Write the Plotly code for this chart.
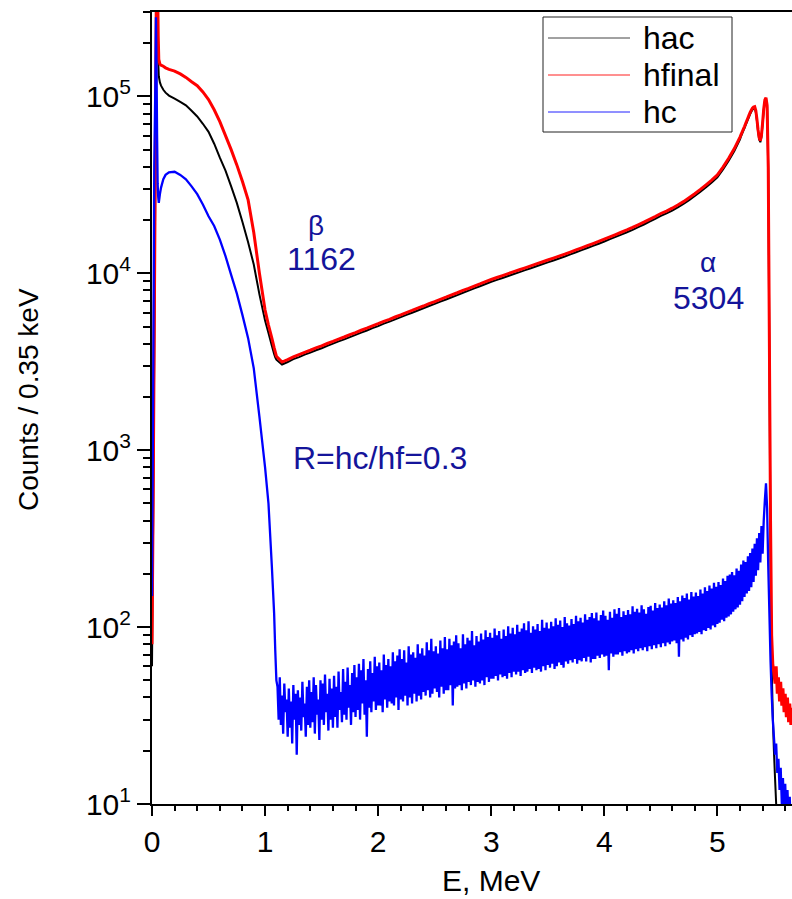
import numpy as np
import plotly.graph_objects as go

# ---------------- spectra (counts per 0.35 keV bin) ----------------
# Low-energy (beta) part, shared energy points, MeV
E_LOW = [0.0, 0.01, 0.02, 0.03, 0.035, 0.04, 0.045, 0.05, 0.055, 0.06,
         0.07, 0.08, 0.1, 0.12, 0.15, 0.2, 0.25, 0.3, 0.35, 0.4,
         0.45, 0.5, 0.55, 0.6, 0.65, 0.7, 0.75, 0.8, 0.85, 0.9,
         0.95, 1.0, 1.03, 1.06, 1.08, 1.09, 1.10]

HAC_LOW = [60, 400, 4000, 4e4, 1.8e5, 4.5e5, 5e5, 3e5, 1.6e5, 1.3e5,
           1.2e5, 1.15e5, 1.09e5, 1.05e5, 1.01e5, 9.7e4, 9.3e4, 8.9e4, 8.3e4, 7.7e4,
           7.0e4, 6.3e4, 5.4e4, 4.5e4, 3.8e4, 3.1e4, 2.5e4, 1.95e4, 1.5e4, 1.12e4,
           7.6e3, 5.4e3, 4.6e3, 3.9e3, 3.5e3, 3.35e3, 3.25e3]

HFINAL_LOW = [80, 500, 5000, 5e4, 2e5, 5e5, 6e5, 4e5, 2.2e5, 1.62e5,
              1.52e5, 1.5e5, 1.48e5, 1.45e5, 1.42e5, 1.39e5, 1.34e5, 1.28e5, 1.21e5, 1.15e5,
              1.06e5, 9.6e4, 8.4e4, 7.2e4, 6.0e4, 5.0e4, 4.1e4, 3.3e4, 2.6e4, 1.7e4,
              1.0e4, 6.2e3, 5.1e3, 4.3e3, 3.8e3, 3.6e3, 3.4e3]

HC_LOW = [150, 2000, 4e4, 1.2e5, 2.8e5, 1.5e5, 6e4, 3.2e4, 2.7e4, 2.5e4,
          2.8e4, 3.05e4, 3.4e4, 3.6e4, 3.72e4, 3.75e4, 3.6e4, 3.4e4, 3.1e4, 2.8e4,
          2.45e4, 2.1e4, 1.85e4, 1.55e4, 1.25e4, 9.8e3, 7.7e3, 5.8e3, 4.3e3, 2.9e3,
          1.55e3, 800, 500, 220, 120, 74, 50]

# hac / hfinal above the beta edge: 0.05 MeV steps from 1.15 MeV
E_MID_START, E_MID_STEP = 1.15, 0.05
HAC_MID = [3050, 3150, 3270, 3360, 3470, 3560, 3670, 3770, 3890, 4000,
           4120, 4230, 4360, 4490, 4620, 4750, 4900, 5030, 5190, 5330,
           5490, 5650, 5820, 5980, 6160, 6340, 6530, 6710, 6920, 7110,
           7320, 7530, 7760, 7980, 8220, 8450, 8700, 8950, 9180, 9410,
           9660, 9900, 10160, 10420, 10680, 10960, 11240, 11530, 11820, 12130,
           12440, 12790, 13150, 13510, 13890, 14280, 14680, 15130, 15590, 16060,
           16550, 17050, 17610, 18230, 18870, 19580, 20310, 21120, 21820, 22630,
           23590, 24650, 25930, 27330, 28900, 30670, 32640, 34890, 38620, 43330,
           49180, 57110]
HFINAL_MID = [3150, 3250, 3370, 3467, 3573, 3673, 3784, 3890, 4009, 4121,
              4246, 4365, 4498, 4624, 4764, 4898, 5047, 5188, 5346, 5495,
              5662, 5821, 5998, 6166, 6353, 6531, 6730, 6918, 7129, 7328,
              7551, 7762, 7998, 8222, 8472, 8710, 8974, 9226, 9462, 9705,
              9954, 10209, 10471, 10740, 11015, 11298, 11588, 11885, 12190, 12503,
              12823, 13183, 13552, 13932, 14322, 14723, 15136, 15596, 16069, 16558,
              17061, 17579, 18155, 18793, 19454, 20184, 20941, 21777, 22490, 23330,
              24320, 25410, 26730, 28180, 29790, 31620, 33650, 35970, 39810, 44670,
              50700, 58880]

# alpha peaks and upper edge: 0.01 MeV steps from 5.21 MeV
E_PEAK_START, E_PEAK_STEP = 5.21, 0.01
HAC_PEAK = [59700, 61800, 64000, 66200, 68700, 71300, 74000, 76700, 79500, 81900,
            84000, 85400, 85700, 81500, 72600, 63300, 57000, 55100, 59100, 69400,
            83400, 93600, 96400, 87300, 38000, 3500, 250, 60, 32, 20,
            14, 10, 7, 5, 4, 3, 4, 3, 3, 3,
            2, 3, 2, 2, 2, 2]
HFINAL_PEAK = [60950, 63100, 65300, 67600, 70150, 72780, 75500, 78300, 81100, 83600,
               85700, 87100, 87500, 83200, 74100, 64600, 58200, 56200, 60300, 70800,
               85100, 95500, 98400, 89100, 39800, 4000, 400, 90, 62, 55,
               48, 60, 42, 52, 38, 49, 36, 45, 33, 42,
               31, 40, 29, 37, 28, 35]

# hc above the beta edge: 0.01 MeV steps from 1.11 MeV
E_HC_START, E_HC_STEP = 1.11, 0.01
HC_HIGH = [
    46, 30, 52, 28, 41, 25, 48, 33, 39, 24,
    45, 27, 38, 22, 47, 30, 42, 19, 44, 28,
    40, 26, 49, 31, 37, 24, 46, 28, 50, 27,
    43, 29, 52, 25, 47, 32, 39, 23, 50, 30,
    48, 28, 54, 33, 42, 26, 51, 30, 45, 27,
    53, 31, 46, 27, 56, 34, 43, 29, 58, 32,
    49, 30, 59, 35, 47, 28, 55, 33, 61, 31,
    52, 34, 62, 30, 57, 37, 66, 32, 50, 24,
    58, 35, 64, 33, 55, 38, 68, 34, 60, 36,
    63, 36, 57, 33, 70, 39, 61, 35, 66, 38,
    60, 37, 72, 36, 64, 40, 69, 34, 75, 39,
    66, 38, 74, 41, 63, 36, 78, 40, 70, 37,
    72, 42, 67, 38, 80, 41, 71, 39, 76, 43,
    69, 41, 82, 44, 74, 40, 86, 42, 73, 45,
    78, 43, 71, 40, 84, 46, 76, 42, 88, 44,
    75, 44, 86, 47, 79, 36, 83, 45, 90, 46,
    81, 47, 76, 44, 91, 48, 80, 45, 87, 49,
    84, 47, 95, 50, 79, 46, 89, 49, 83, 48,
    92, 50, 85, 47, 96, 52, 88, 49, 93, 51,
    87, 51, 98, 53, 90, 50, 95, 54, 86, 52,
    97, 53, 89, 51, 101, 55, 92, 52, 99, 56,
    91, 54, 103, 56, 94, 53, 98, 57, 105, 55,
    96, 56, 108, 58, 93, 55, 101, 59, 97, 57,
    104, 58, 95, 56, 110, 60, 99, 57, 106, 61,
    98, 59, 107, 62, 101, 58, 112, 60, 103, 63,
    109, 61, 100, 59, 114, 64, 105, 62, 102, 65,
    111, 63, 104, 66, 116, 62, 108, 65, 113, 64,
    106, 67, 118, 64, 110, 68, 114, 63, 120, 66,
    112, 66, 121, 69, 109, 67, 117, 70, 124, 68,
    116, 69, 110, 57, 122, 71, 113, 68, 126, 70,
    119, 70, 128, 72, 114, 69, 123, 73, 117, 71,
    125, 72, 118, 74, 131, 71, 122, 75, 127, 73,
    121, 76, 133, 74, 126, 77, 119, 73, 130, 78,
    132, 75, 124, 79, 137, 76, 128, 80, 134, 77,
    129, 81, 140, 78, 133, 82, 145, 80, 136, 83,
    142, 84, 137, 81, 148, 68, 140, 85, 151, 83,
    146, 87, 155, 85, 143, 90, 158, 88, 149, 91,
    157, 92, 150, 94, 163, 91, 155, 96, 168, 95,
    160, 99, 172, 97, 165, 102, 178, 100, 169, 104,
    180, 106, 173, 110, 188, 108, 182, 113, 195, 115,
    198, 118, 205, 122, 196, 126, 214, 129, 208, 134,
    226, 140, 238, 148, 233, 155, 251, 160, 262, 168,
    278, 180, 296, 195, 318, 210, 340, 232, 372, 260,
    400, 520, 650, 470, 220, 120, 65, 42, 30, 24,
    19, 22, 15, 18, 12, 16, 10, 14, 9, 13,
    8, 12, 8, 11, 7, 10,
]

# axis ticks
X_TICKS = [0, 1, 2, 3, 4, 5]
Y_TICK_VALS = [10, 100, 1000, 10000, 100000]
Y_TICK_TEXT = ["10<sup>1</sup>", "10<sup>2</sup>", "10<sup>3</sup>",
               "10<sup>4</sup>", "10<sup>5</sup>"]

SERIES_NAMES = ["hac", "hfinal", "hc"]
SERIES_COLORS = ["black", "#ff0000", "#0000ff"]
LEGEND_COLORS = ["#444444", "#ff2020", "#2020ff"]


def grid(start, step, values):
    return list(np.round(start + step * np.arange(len(values)), 4))


e_hac = E_LOW + grid(E_MID_START, E_MID_STEP, HAC_MID) + grid(E_PEAK_START, E_PEAK_STEP, HAC_PEAK)
y_hac = HAC_LOW + HAC_MID + HAC_PEAK
e_hf = E_LOW + grid(E_MID_START, E_MID_STEP, HFINAL_MID) + grid(E_PEAK_START, E_PEAK_STEP, HFINAL_PEAK)
y_hf = HFINAL_LOW + HFINAL_MID + HFINAL_PEAK
e_hc = E_LOW + grid(E_HC_START, E_HC_STEP, HC_HIGH)
y_hc = HC_LOW + HC_HIGH

FONT = "Liberation Sans, Arial, sans-serif"
NAVY = "#14149a"

fig = go.Figure()
for (ex, ey), name, col, w in zip([(e_hac, y_hac), (e_hf, y_hf), (e_hc, y_hc)],
                                  SERIES_NAMES, SERIES_COLORS, [2, 3, 2.3]):
    fig.add_trace(go.Scatter(x=ex, y=ey, mode="lines", name=name, showlegend=False,
                             line=dict(color=col, width=w, simplify=False)))

# boxed key in the upper right corner (paper coordinates)
px = lambda v: (v - 152) / 640.0
py = lambda v: (804 - v) / 792.0
fig.add_shape(type="rect", xref="paper", yref="paper",
              x0=px(543), x1=px(732), y0=py(132), y1=py(17),
              line=dict(color="#222222", width=1), fillcolor="white", layer="above")
for i, (name, col) in enumerate(zip(SERIES_NAMES, LEGEND_COLORS)):
    yrow = py(38 + 37 * i)
    fig.add_shape(type="line", xref="paper", yref="paper", x0=px(548), x1=px(630),
                  y0=yrow, y1=yrow, line=dict(color=col, width=1), layer="above")
    fig.add_annotation(xref="paper", yref="paper", x=px(641), y=yrow,
                       xanchor="left", yanchor="middle", showarrow=False, text=name,
                       font=dict(family=FONT, size=32, color="black"))

annotations = [
    dict(x=1.453, y=4.27, text="\u03b2", size=28),
    dict(x=1.496, y=4.079, text="1162", size=32),
    dict(x=4.918, y=4.06, text="\u03b1", size=28),
    dict(x=4.918, y=3.859, text="5304", size=32),
    dict(x=2.018, y=2.955, text="R=hc/hf=0.3", size=32),
]
for a in annotations:
    fig.add_annotation(xref="x", yref="y", x=a["x"], y=a["y"], text=a["text"],
                       showarrow=False, xanchor="center", yanchor="middle",
                       font=dict(family=FONT, size=a["size"], color=NAVY))

# axis titles
fig.add_annotation(xref="paper", yref="paper", x=px(491), y=py(880), showarrow=False,
                   xanchor="center", yanchor="middle",
                   text="E, MeV", font=dict(family=FONT, size=30, color="black"))
fig.add_annotation(xref="paper", yref="paper", x=px(28), y=py(400), showarrow=False,
                   xanchor="center", yanchor="middle", textangle=-90,
                   text="Counts / 0.35 keV",
                   font=dict(family=FONT, size=28, color="black"))

fig.update_layout(
    width=792, height=899,
    margin=dict(l=152, r=0, t=12, b=95),
    paper_bgcolor="white", plot_bgcolor="white",
    font=dict(family=FONT, color="black"),
    showlegend=False,
    xaxis=dict(range=[0, 5.66], tickvals=X_TICKS, ticks="outside", ticklen=10,
               tickwidth=2, tickcolor="black", showline=True, linewidth=2,
               linecolor="black", mirror=True, showgrid=False, zeroline=False,
               tickfont=dict(family=FONT, size=30, color="black"),
               minor=dict(dtick=0.2, ticks="outside", ticklen=5, tickwidth=2,
                          tickcolor="black", showgrid=False)),
    yaxis=dict(type="log", range=[1, 5.477], tickvals=Y_TICK_VALS, ticktext=Y_TICK_TEXT,
               ticks="outside", ticklen=13, tickwidth=2, tickcolor="black",
               showline=True, linewidth=2, linecolor="black", showgrid=False,
               zeroline=False, tickfont=dict(family=FONT, size=30, color="black"),
               minor=dict(dtick="D1", ticks="outside", ticklen=7, tickwidth=2,
                          tickcolor="black", showgrid=False)),
)

fig.write_html("out.html")
